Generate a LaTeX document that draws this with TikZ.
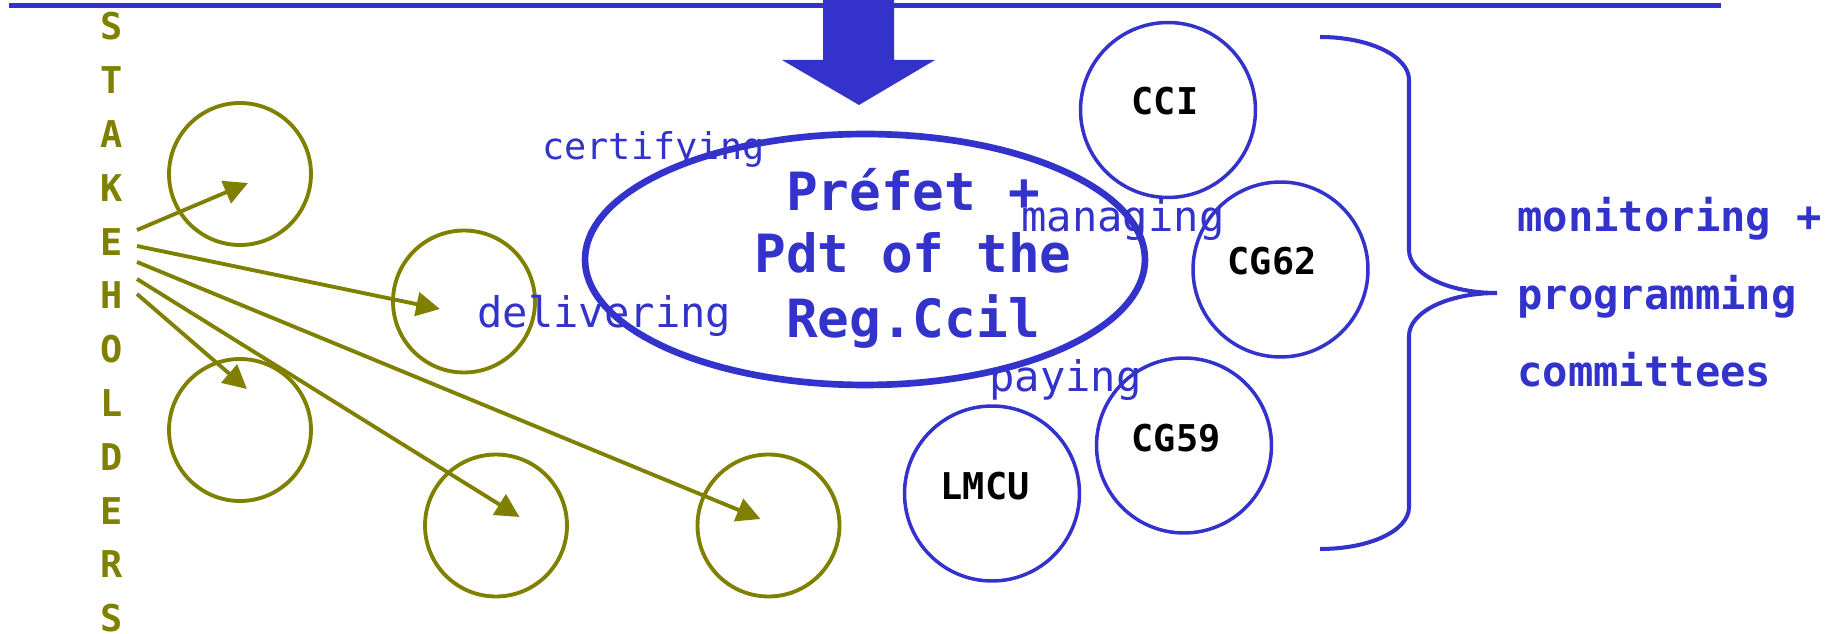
\documentclass[tikz,border=0pt]{standalone}
\usepackage{fontspec}
\setmonofont{DejaVu Sans Mono}
\usepackage{tikz}
\usetikzlibrary{calc, arrows.meta, shapes.geometric, positioning}
\definecolor{blu}{RGB}{51,51,204}
\definecolor{oli}{RGB}{128,128,0}

\begin{document}
\begin{tikzpicture}[x=0.02cm, y=-0.02cm,
  sc/.style={draw=oli, line width=2.2pt, circle, minimum size=2.84cm, inner sep=0pt},
  bc/.style={draw=blu, line width=2pt, circle, minimum size=3.5cm, inner sep=0pt},
  ar/.style={draw=oli, line width=2.2pt, -{Triangle[length=13.5pt,width=13.5pt]}},
  lt/.style={text=oli, font=\ttfamily\bfseries\fontsize{21}{21}\selectfont},
  nm/.style={font=\ttfamily\bfseries\fontsize{21}{21}\selectfont},
  act/.style={text=blu, inner sep=0pt, anchor=base west, font=\ttfamily\fontsize{24}{24}\selectfont},
  com/.style={text=blu, inner sep=0pt, anchor=base west, font=\ttfamily\bfseries\fontsize{24}{24}\selectfont},
  big/.style={text=blu, inner sep=0pt, anchor=base, font=\ttfamily\bfseries\fontsize{30}{30}\selectfont}]
        \useasboundingbox (0,0) rectangle (1826,634);

        % top bar and arrow
        \draw[blu, line width=2.8pt] (9,5.5) -- (1721,5.5);
        \fill[blu] (823,0) -- (894,0) -- (894,60) -- (935,60) -- (859,105) -- (782,60) -- (823,60) -- cycle;

        % stakeholders
        \foreach \l [count=\i] in {S,T,A,K,E,H,O,L,D,E,R,S}
          \node[lt] (st\i) at (112, 26.5+53.8*\i-53.8) {\l};

        \draw node[sc] (c1) at (240,174) {} node[sc] (c2) at (464,301.5) {}
        node[sc] (c3) at (240,430) {} node[sc] (c4) at (496,525.5) {} node[sc] (c5) at (768.5,525.5) {};

        \coordinate (s1) at (137,230); \coordinate (t1) at (248,183);
        \coordinate (s2) at (137,246); \coordinate (t2) at (440,309);
        \coordinate (s3) at (137,262); \coordinate (t3) at (760.5,519);
        \coordinate (s4) at (137,279); \coordinate (t4) at (519.5,517);
        \coordinate (s5) at (137,294); \coordinate (t5) at (247,389);
        \foreach \i in {1,...,5}
          \draw[ar] (s\i) -- (t\i);

        % region
        \node[draw=blu, line width=3.8pt, ellipse, minimum width=11.2cm, minimum height=5.02cm, inner sep=0pt] (reg) at (865,259.5) {};
        \node[big] (pref1) at (913,211) {Préfet +};
        \node[big] (pref2) at (913,273) {Pdt of the};
        \node[big] (pref3) at (913,338) {Reg.Ccil};

        \node[act, font=\ttfamily\fontsize{21}{21}\selectfont] (cert) at (542,160) {certifying};
        \node[act] (deli) at (477,328) {delivering};
        \node[act] (mana) at (1021,232) {managing};
        \node[act] (pay) at (989,392) {paying};

        % partners
        \draw node[bc] (cci) at (1168,110) {} node[bc] (cg62) at (1280.5,269.5) {}
        node[bc] (cg59) at (1184,445.5) {} node[bc] (lmcu) at (992,493.5) {};
        \node[nm] at (1165,101.5) {CCI};
        \node[nm] at (1272,261.5) {CG62};
        \node[nm] at (1176,438.5) {CG59};
        \node[nm] at (985,486.5) {LMCU};

        % brace
        \draw[blu, line width=2.3pt] (1320,37) .. controls (1369,37) and (1409,56) .. (1409,80) -- (1409,250)
        .. controls (1409,274) and (1448,293) .. (1497,293)
        .. controls (1448,293) and (1409,312) .. (1409,336) -- (1409,507)
        .. controls (1409,531) and (1369,549) .. (1320,549);

        \node[com] (mon) at (1517,232) {monitoring +};
        \node[com] (prog) at (1517,309.5) {programming};
        \node[com] (comm) at (1517,387) {committees};
      \end{tikzpicture}
\end{document}
